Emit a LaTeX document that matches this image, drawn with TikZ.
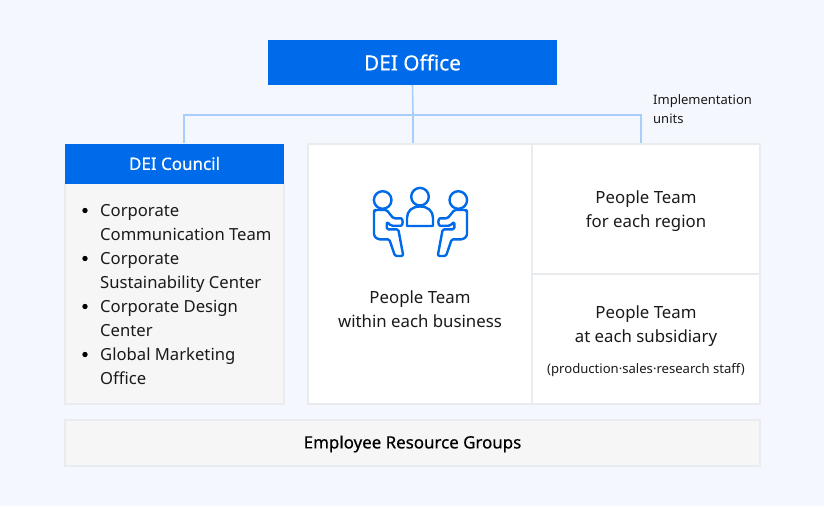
\documentclass[tikz,border=0pt]{standalone}
\usepackage{fontspec}
\setmainfont{Noto Sans}
\newfontfamily\medfont[FakeBold=0.5]{Noto Sans}
\definecolor{pagebg}{HTML}{F4F7FE}
\definecolor{deiblue}{HTML}{006BEA}
\definecolor{linkblue}{HTML}{A8CEFB}
\definecolor{edgegrey}{HTML}{E9ECEF}
\definecolor{panelgrey}{HTML}{F6F6F6}
\definecolor{inktext}{HTML}{1A1A1A}
\tikzset{
  x=1pt,y=-1pt,
  link/.style={draw=linkblue,line width=1.6pt},
  cell/.style={draw=edgegrey,line width=1.5pt,fill=white,inner sep=0pt},
  greybox/.style={draw=edgegrey,line width=1.5pt,fill=panelgrey,inner sep=0pt},
  bluebox/.style={fill=deiblue,text=white,inner sep=0pt,font=\fontsize{17}{20}\selectfont\medfont},
  label/.style={text=inktext,font=\fontsize{16.8}{24}\selectfont,align=center,inner sep=0pt},
  listitem/.style={text=inktext,font=\fontsize{16.65}{24}\selectfont,align=left,anchor=west,inner sep=0pt},
  bulletmark/.style={circle,fill=black,inner sep=0pt,minimum size=5.4pt},
  sitter/.style={draw=deiblue,line width=2.4pt,line join=round,rounded corners=1.5pt},
}
\newcommand{\sitterbody}{
  (375,210) -- (386.7,210) -- (393.3,218.3) -- (399.5,218.3)
  .. controls (403.2,218.3) and (403.2,225.7) .. (399.5,225.7)
  -- (391,225.7) -- (386.7,221.7) -- (386.7,229.3) -- (398.3,229.3)
  -- (403.3,256) -- (395,256) -- (389.3,239.3) -- (378,239.3)
  -- (374,236) -- (374,211) -- cycle
}
\begin{document}
\begin{tikzpicture}
\useasboundingbox (0,0) rectangle (824,506);
\fill[pagebg] (0,0) rectangle (824,506);

\coordinate (jl) at (184,115);
\coordinate (jm) at (413,115);
\coordinate (jr) at (641,115);

\node[bluebox,minimum width=289pt,minimum height=45pt,font=\fontsize{20.8}{24}\selectfont\medfont] (office) at (412.5,62.5) {DEI Office};

\node[cell,minimum width=224pt,minimum height=260pt] (business) at (420,274) {};
\node[cell,minimum width=228pt,minimum height=130pt] (region) at (646,209) {};
\node[cell,minimum width=228pt,minimum height=130pt] (subsidiary) at (646,339) {};
\node[greybox,minimum width=219pt,minimum height=221pt] (members) at (174.5,293.5) {};
\node[bluebox,minimum width=219pt,minimum height=40pt] (council) at (174.5,163.5) {DEI Council};
\node[greybox,minimum width=695pt,minimum height=46pt] (erg) at (412.5,443) {};
\node[text=black,inner sep=0pt,font=\fontsize{16.9}{20}\selectfont\medfont] (ergtext) at (412.5,444) {Employee Resource Groups};

\draw[link] (office.south) -- (jm);
\draw[link] (jl |- council.north) -- (jl) -- (jr) -- (jr |- region.north);
\draw[link] (jm) -- (jm |- business.north);

\node[text=inktext,font=\fontsize{13}{19}\selectfont,align=left,anchor=north west,inner sep=0pt] (impl) at (653,91) {\strut Implementation\\\strut units};

\node[label] (tb) at (420,311) {\strut People Team\\\strut within each business};
\node[label] (tr) at (646,211) {\strut People Team\\\strut for each region};
\node[label] (ts) at (646,326) {\strut People Team\\\strut at each subsidiary};
\node[label,font=\fontsize{13.1}{16}\selectfont] (tsnote) at (646,370) {\strut(production·sales·research staff)};

\node[bulletmark] (b1) at (85,210.5) {};
\node[bulletmark] (b2) at (85,258.5) {};
\node[bulletmark] (b3) at (85,306.5) {};
\node[bulletmark] (b4) at (85,354.5) {};
\node[listitem] (i1) at (100,224) {\strut Corporate\\\strut Communication Team};
\node[listitem] (i2) at (100,272) {\strut Corporate\\\strut Sustainability Center};
\node[listitem] (i3) at (100,320) {\strut Corporate Design\\\strut Center};
\node[listitem] (i4) at (100,368) {\strut Global Marketing\\\strut Office};

% people icon
\draw[draw=deiblue,line width=2.4pt] (382.7,200) circle (8.8);
\draw[draw=deiblue,line width=2.4pt] (420,196.7) circle (8.8);
\draw[draw=deiblue,line width=2.4pt] (458.3,200) circle (8.8);
\draw[draw=deiblue,line width=2.4pt,line join=round] (407,226) -- (407,218) .. controls (407,211) and (412,206.5) .. (420,206.5) .. controls (428,206.5) and (433,211) .. (433,218) -- (433,226) -- cycle;
\draw[sitter] \sitterbody;
\begin{scope}[xshift=841pt,xscale=-1]
\draw[sitter] \sitterbody;
\end{scope}
\end{tikzpicture}
\end{document}
